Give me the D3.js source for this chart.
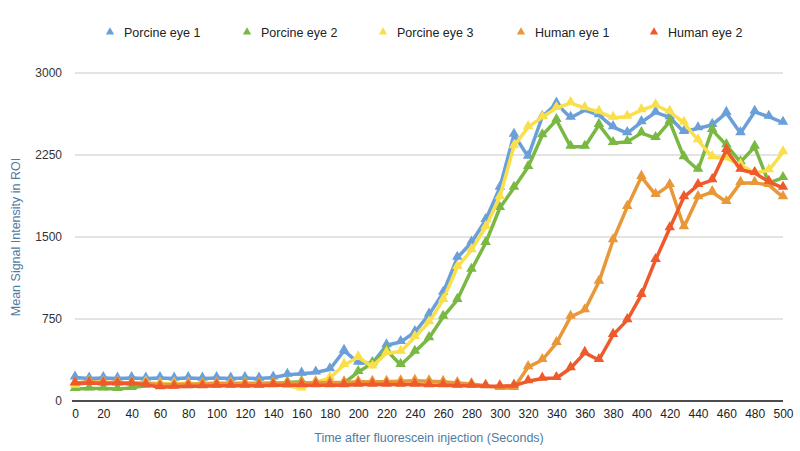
<!DOCTYPE html>
<html>
<head>
<meta charset="utf-8">
<script src="https://cdn.jsdelivr.net/npm/d3@7"></script>
<style>
  body { margin: 0; background: #fff; }
  svg { display: block; font-family: "Liberation Sans", Arial, sans-serif; }
</style>
</head>
<body>
<div id="chart"></div>
<script>
// time in seconds, 0..500 every 10 s
const times = d3.range(0, 501, 10);

const seriesNames = ['Porcine eye 1', 'Porcine eye 2', 'Porcine eye 3', 'Human eye 1', 'Human eye 2'];

const porcine1 = [215, 205, 210, 205, 210, 205, 210, 205, 210, 205, 210, 205, 210, 205, 215,
  240, 250, 260, 290, 460, 350, 345, 510, 540, 630, 790, 990, 1310, 1450, 1655, 1950,
  2435, 2235, 2600, 2720, 2590, 2660, 2615, 2505, 2450, 2550, 2640, 2595, 2460, 2495,
  2525, 2635, 2450, 2645, 2600, 2545];

const porcine2 = [110, 115, 115, 110, 120, 140, 150, 155, 155, 160, 160, 160, 160, 160, 160,
  170, 175, 150, 155, 165, 265, 345, 465, 330, 450, 575, 770, 925, 1200, 1445, 1765,
  1950, 2140, 2430, 2570, 2325, 2325, 2525, 2360, 2370, 2450, 2405, 2555, 2230, 2115,
  2480, 2340, 2185, 2325, 1995, 2040];

const porcine3 = [140, 175, 170, 170, 165, 170, 160, 160, 160, 155, 160, 160, 160, 155, 150,
  140, 115, 170, 210, 330, 400, 315, 440, 450, 585, 720, 925, 1225, 1380, 1590, 1865,
  2330, 2505, 2595, 2680, 2725, 2680, 2645, 2590, 2600, 2660, 2705, 2645, 2545, 2385,
  2230, 2220, 2160, 2085, 2110, 2275];

const human1 = [165, 175, 170, 170, 165, 160, 150, 150, 155, 155, 160, 160, 160, 160, 165,
  165, 165, 170, 170, 170, 175, 175, 175, 180, 185, 180, 175, 165, 155, 140, 120,
  120, 310, 375, 530, 770, 830, 1090, 1470, 1775, 2050, 1885, 1975, 1590, 1865,
  1910, 1820, 1995, 1995, 1975, 1865];

const human2 = [160, 165, 160, 160, 160, 150, 125, 130, 135, 135, 140, 140, 140, 140, 145,
  145, 145, 145, 145, 145, 150, 150, 150, 150, 150, 145, 145, 140, 140, 135, 135,
  140, 180, 205, 210, 300, 440, 375, 605, 740, 970, 1290, 1580, 1865, 1975,
  2020, 2295, 2115, 2085, 2005, 1950];

const seriesValues = [porcine1, porcine2, porcine3, human1, human2];
const seriesColors = ['#6a9fd9', '#79b843', '#f9e04b', '#e89839', '#ee5a2b'];

const yTicks = [0, 750, 1500, 2250, 3000];
const xTicks = d3.range(0, 501, 20);

const width = 800, height = 451;
const margin = {left: 75, right: 17, top: 73, bottom: 50};

const svg = d3.select('#chart').append('svg')
  .attr('width', width).attr('height', height);

const x = d3.scaleLinear().domain([0, 500]).range([margin.left, width - margin.right]);
const y = d3.scaleLinear().domain([0, 3000]).range([height - margin.bottom, margin.top]);

// grid lines
svg.append('g')
  .selectAll('line')
  .data(yTicks.slice(1))
  .enter()
  .append('line')
  .attr('x1', x(0)).attr('x2', x(500))
  .attr('y1', d => y(d)).attr('y2', d => y(d))
  .attr('stroke', '#c8c8c8').attr('stroke-width', 1);

// y axis labels
const yAxis = d3.axisLeft(y).tickValues(yTicks).tickFormat(d3.format('d')).tickSize(0).tickPadding(13);
const gy = svg.append('g').attr('transform', `translate(${x(0)},0)`).call(yAxis);
gy.select('.domain').remove();
gy.selectAll('text').attr('font-size', 12).attr('fill', '#333').attr('font-family', '"Liberation Sans", Arial, sans-serif');

// x axis
const xAxis = d3.axisBottom(x).tickValues(xTicks).tickSize(0).tickPadding(8);
const gx = svg.append('g').attr('transform', `translate(0,${y(0)})`).call(xAxis);
gx.select('.domain').remove();
gx.selectAll('text').attr('font-size', 12).attr('fill', '#222').attr('font-family', '"Liberation Sans", Arial, sans-serif');

svg.append('line')
  .attr('x1', x(0) - 3).attr('x2', x(500))
  .attr('y1', y(0)).attr('y2', y(0))
  .attr('stroke', '#111').attr('stroke-width', 1.5);

// axis titles
svg.append('text')
  .attr('x', (x(0) + x(500)) / 2).attr('y', 442)
  .attr('text-anchor', 'middle')
  .attr('font-size', 12.5).attr('fill', '#4f7ba3')
  .text('Time after fluorescein injection (Seconds)');

svg.append('text')
  .attr('transform', `translate(20,${(y(0) + y(3000)) / 2}) rotate(-90)`)
  .attr('text-anchor', 'middle')
  .attr('font-size', 12.5).attr('fill', '#4f7ba3')
  .text('Mean Signal Intensity in ROI');

// lines and markers
const line = d3.line()
  .x((d, i) => x(times[i]))
  .y(d => y(d));

const tri = d3.symbol().type(d3.symbolTriangle).size(48);

seriesValues.forEach((vals, k) => {
  const g = svg.append('g');
  g.append('path')
    .datum(vals)
    .attr('d', line)
    .attr('fill', 'none')
    .attr('stroke', seriesColors[k])
    .attr('stroke-width', 3.5)
    .attr('stroke-linejoin', 'round');
  g.selectAll('path.m')
    .data(vals)
    .enter()
    .append('path')
    .attr('class', 'm')
    .attr('d', tri)
    .attr('transform', (d, i) => `translate(${x(times[i])},${y(d) - 1})`)
    .attr('fill', seriesColors[k]);
});

// legend
const legendX = [110, 247, 383, 521, 654];
const legend = svg.append('g');
seriesNames.forEach((name, k) => {
  legend.append('path')
    .attr('d', d3.symbol().type(d3.symbolTriangle).size(30))
    .attr('transform', `translate(${legendX[k]},32)`)
    .attr('fill', seriesColors[k]);
  legend.append('text')
    .attr('x', legendX[k] + 14).attr('y', 37)
    .attr('font-size', 12.5).attr('fill', '#222')
    .text(name);
});
</script>
</body>
</html>
